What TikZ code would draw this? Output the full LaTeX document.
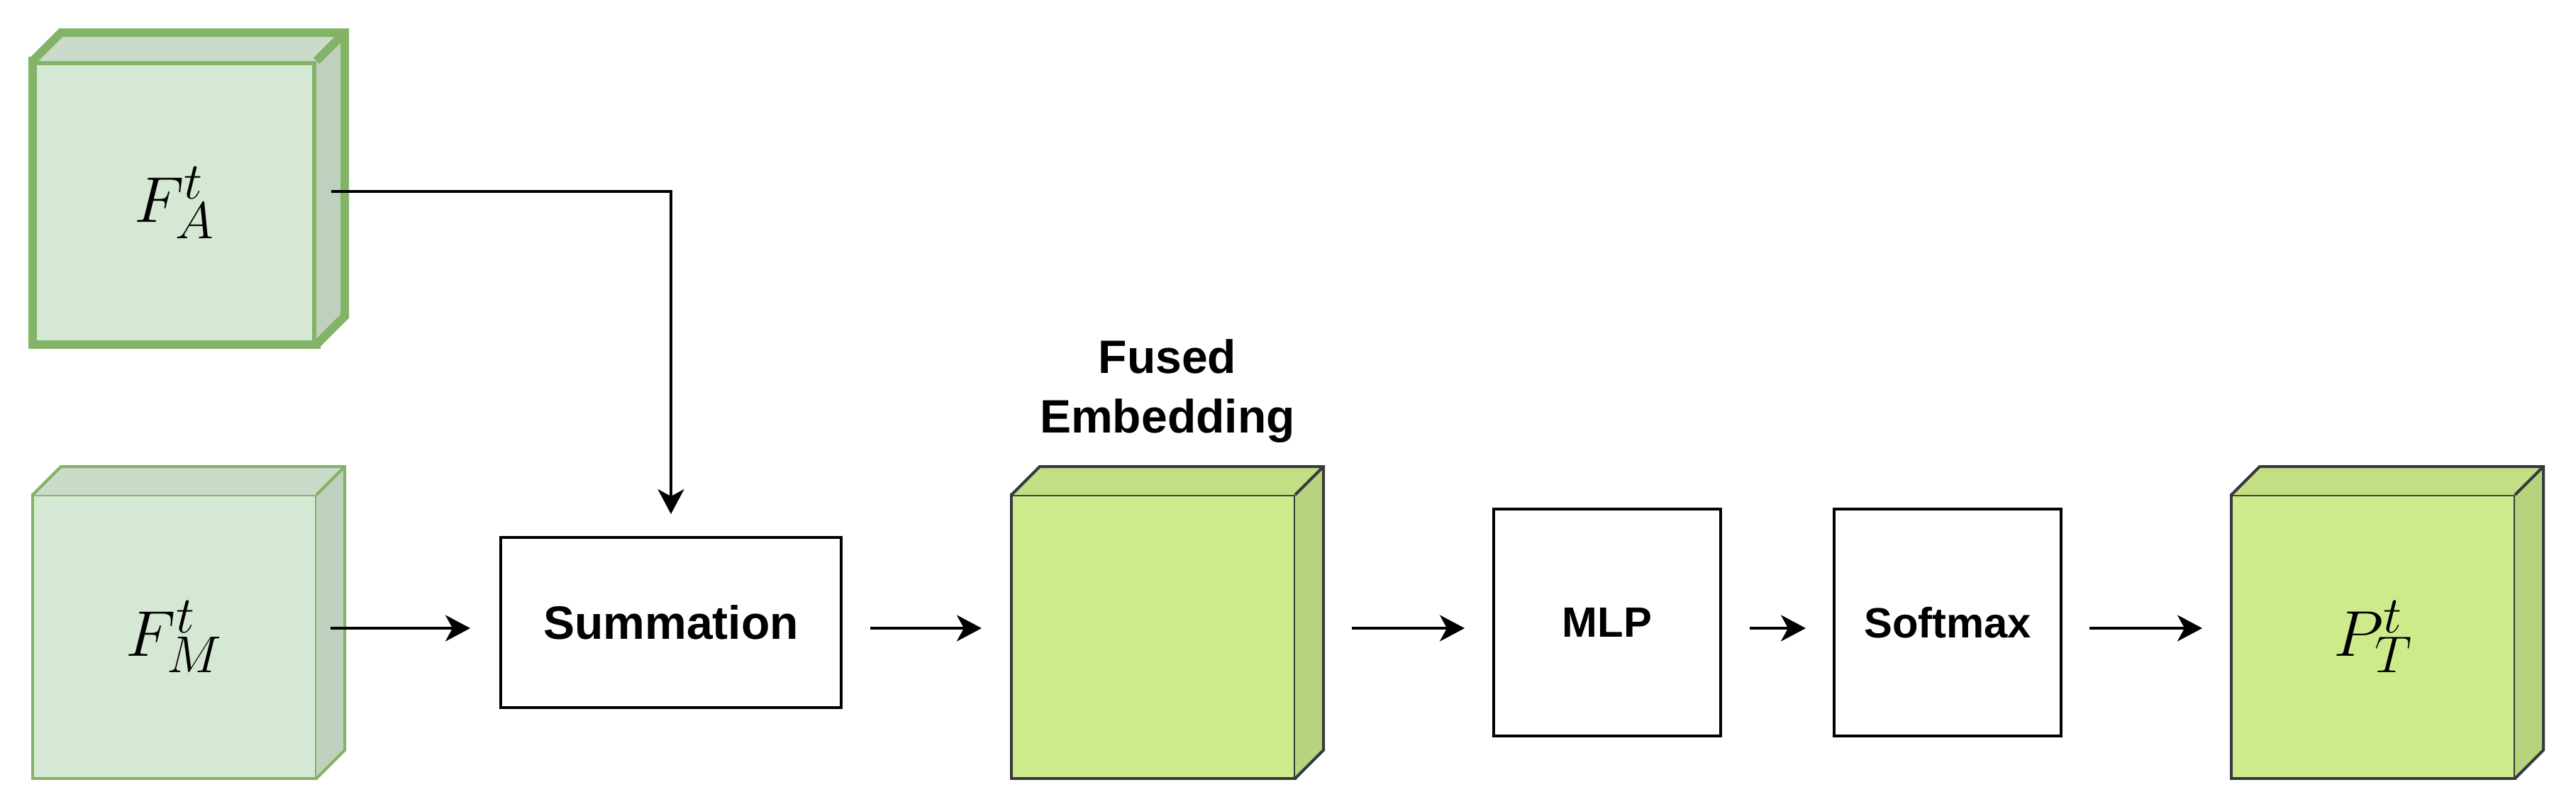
\documentclass[tikz,border=0pt]{standalone}
\usepackage{fix-cm}
\usepackage{fontspec}
\usepackage{xcolor}
\usepackage{tikz}
\usetikzlibrary{positioning,arrows.meta}
\newfontfamily\labelfont{Liberation Sans}
\DeclareMathSizes{26}{26}{20.8}{15}

\definecolor{featfill}{HTML}{D5E8D4}
\definecolor{featline}{HTML}{82B366}
\definecolor{feattop}{HTML}{CADCC9}
\definecolor{featside}{HTML}{BFD1BE}
\definecolor{fusedfill}{HTML}{CDEB8B}
\definecolor{fusedline}{HTML}{36393D}
\definecolor{fusedtop}{HTML}{C3DF84}
\definecolor{fusedside}{HTML}{B8D37D}

\tikzset{
    cube/.style={rectangle, minimum width=4cm, minimum height=4cm, inner sep=0pt, outer sep=0pt, font=\fontsize{26}{30}\selectfont},
    featcube/.style={cube, draw=featline, fill=featfill, line width=0.04cm},
    featcubethick/.style={cube, draw=featline, fill=featfill, line width=0.12cm},
    fusedcube/.style={cube, draw=fusedline, fill=fusedfill, line width=0.04cm},
    block/.style={rectangle, draw, line width=0.04cm, inner sep=0pt, outer sep=0pt, minimum width=3.2cm, minimum height=3.2cm, font=\labelfont\bfseries\fontsize{17}{20}\selectfont},
    arr/.style={-{Stealth[length=0.35cm,width=0.37cm,inset=0.1cm]}, line width=0.04cm},
}

\begin{document}
\begin{tikzpicture}
    \path[use as bounding box, fill=white] (0,0) rectangle (36.32,-11.40);
    \coordinate (flow) at (0,-8.86);

    % inputs
    \node[featcubethick] (FA) at (2.46,-2.86) {$F_A^t$};
    \fill[feattop] (FA.north west) -- ++(0.4,0.4) -- ++(4,0) -- (FA.north east) -- cycle;
    \fill[featside] (FA.north east) -- ++(0.4,0.4) -- ++(0,-4) -- (FA.south east) -- cycle;
    \draw[featline, line width=0.12cm] (FA.north west) -- ++(0.4,0.4) -- ++(4,0) -- ++(0,-4) -- (FA.south east) (FA.north east) -- ++(0.4,0.4);

    \node[featcube] (FM) at (2.46,-8.98) {$F_M^t$};
    \fill[feattop] (FM.north west) -- ++(0.4,0.4) -- ++(4,0) -- (FM.north east) -- cycle;
    \fill[featside] (FM.north east) -- ++(0.4,0.4) -- ++(0,-4) -- (FM.south east) -- cycle;
    \draw[featline, line width=0.04cm] (FM.north west) -- ++(0.4,0.4) -- ++(4,0) -- ++(0,-4) -- (FM.south east) (FM.north east) -- ++(0.4,0.4);

    \node[block, minimum width=4.8cm, minimum height=2.4cm, font=\labelfont\bfseries\fontsize{18.8}{23.9}\selectfont] (sum) at (9.46,-8.78) {Summation};

    % fused embedding
    \node[fusedcube] (FE) at (16.26,-8.98) {};
    \fill[fusedtop] (FE.north west) -- ++(0.4,0.4) -- ++(4,0) -- (FE.north east) -- cycle;
    \fill[fusedside] (FE.north east) -- ++(0.4,0.4) -- ++(0,-4) -- (FE.south east) -- cycle;
    \draw[fusedline, line width=0.04cm] (FE.north west) -- ++(0.4,0.4) -- ++(4,0) -- ++(0,-4) -- (FE.south east) (FE.north east) -- ++(0.4,0.4);
    \node[above=0.73cm of FE, xshift=0.2cm, inner sep=0pt, align=center, font=\labelfont\bfseries\fontsize{18.8}{23.9}\selectfont] (FElabel) {Fused\\Embedding};

    \node[block] (mlp) at (22.66,-8.78) {MLP};
    \node[block] (soft) at (27.46,-8.78) {Softmax};

    % output
    \node[fusedcube] (PT) at (33.46,-8.98) {$P_T^t$};
    \fill[fusedtop] (PT.north west) -- ++(0.4,0.4) -- ++(4,0) -- (PT.north east) -- cycle;
    \fill[fusedside] (PT.north east) -- ++(0.4,0.4) -- ++(0,-4) -- (PT.south east) -- cycle;
    \draw[fusedline, line width=0.04cm] (PT.north west) -- ++(0.4,0.4) -- ++(4,0) -- ++(0,-4) -- (PT.south east) (PT.north east) -- ++(0.4,0.4);

    % arrows
    \draw[arr, shorten >=0.33cm] ([xshift=0.21cm,yshift=0.16cm]FA.east) -| (sum.north);
    \draw[arr, shorten >=0.43cm] ([xshift=0.2cm]FM.east |- flow) -- (sum.west |- flow);
    \draw[arr, shorten >=0.42cm] ([xshift=0.41cm]sum.east |- flow) -- (FE.west |- flow);
    \draw[arr, shorten >=0.41cm] ([xshift=0.8cm]FE.east |- flow) -- (mlp.west |- flow);
    \draw[arr, shorten >=0.40cm] ([xshift=0.41cm]mlp.east |- flow) -- (soft.west |- flow);
    \draw[arr, shorten >=0.41cm] ([xshift=0.4cm]soft.east |- flow) -- (PT.west |- flow);
\end{tikzpicture}
\end{document}
